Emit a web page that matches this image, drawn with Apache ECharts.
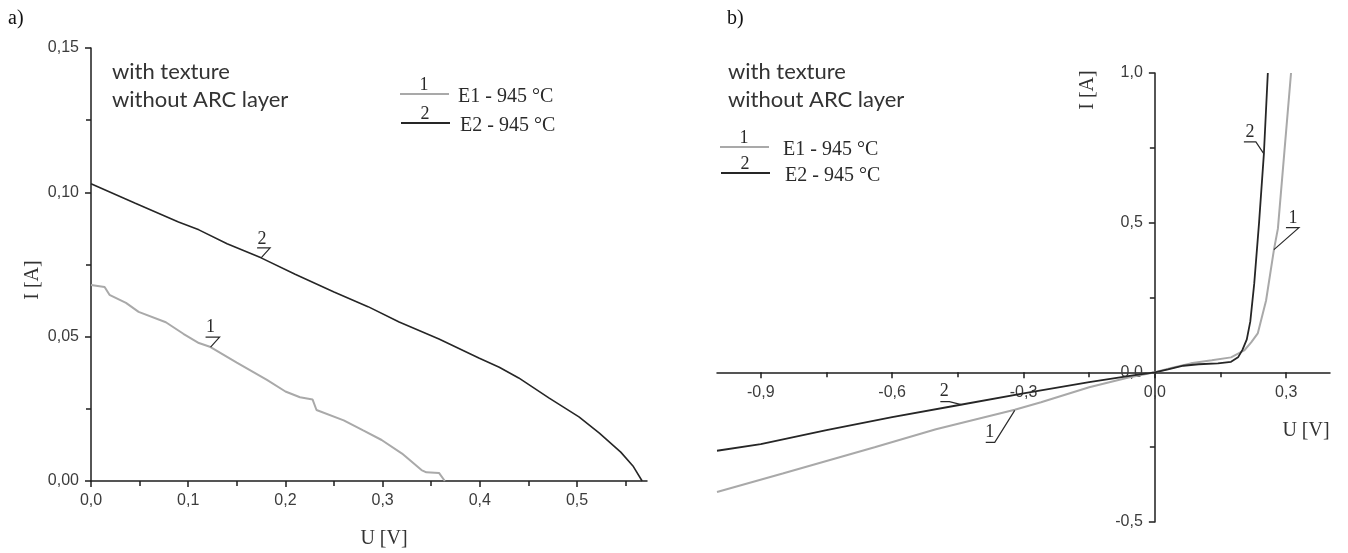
<!DOCTYPE html>
<html><head><meta charset="utf-8">
<script src="https://cdn.jsdelivr.net/npm/echarts@6/dist/echarts.min.js"></script>
<style>html,body{margin:0;padding:0;background:#fff}#c{width:1348px;height:553px}</style>
</head><body><div id="c"></div>
<script>
// ---------- data ----------
const seriesNames = ['E1 - 945 °C', 'E2 - 945 °C'];
const seriesNumbers = ['1', '2'];
const noteLines = ['with texture', 'without ARC layer'];
const panelTitles = ['a)', 'b)'];
const axisTitles = { u: 'U [V]', i: 'I [A]' };

// panel a) : curve 1 (gray, E1)
const a1U = [0, 0.014, 0.019, 0.036, 0.049, 0.077, 0.095, 0.111, 0.123, 0.15, 0.181, 0.2, 0.215, 0.228, 0.232, 0.26, 0.28, 0.299, 0.32, 0.34, 0.345, 0.358, 0.364];
const a1I = [0.0679, 0.0672, 0.0645, 0.0617, 0.0586, 0.055, 0.051, 0.0478, 0.0464, 0.041, 0.035, 0.031, 0.029, 0.0282, 0.0246, 0.021, 0.0175, 0.0142, 0.0095, 0.0038, 0.003, 0.0028, 0];
// panel a) : curve 2 (dark, E2)
const a2U = [0, 0.045, 0.09, 0.111, 0.14, 0.175, 0.21, 0.25, 0.285, 0.317, 0.358, 0.399, 0.42, 0.44, 0.471, 0.502, 0.523, 0.545, 0.558, 0.567];
const a2I = [0.103, 0.0963, 0.0897, 0.087, 0.0822, 0.0773, 0.0716, 0.0655, 0.0604, 0.0551, 0.0492, 0.0426, 0.0394, 0.0357, 0.0288, 0.0222, 0.0166, 0.010, 0.005, 0];

// panel b) : curve 1 (gray, E1)
const b1U = [-1.0, -0.85, -0.64, -0.5, -0.32, -0.26, -0.15, -0.06, 0, 0.04, 0.082, 0.13, 0.174, 0.204, 0.22, 0.235, 0.254, 0.272, 0.281, 0.296, 0.311];
const b1I = [-0.40, -0.338, -0.25, -0.19, -0.125, -0.1, -0.05, -0.017, 0, 0.015, 0.03, 0.04, 0.05, 0.073, 0.1, 0.13, 0.24, 0.41, 0.48, 0.74, 1.0];
// panel b) : curve 2 (dark, E2)
const b2U = [-1.0, -0.9, -0.75, -0.6, -0.45, -0.3, -0.15, -0.05, 0, 0.03, 0.065, 0.1, 0.144, 0.174, 0.19, 0.2, 0.21, 0.218, 0.227, 0.238, 0.249, 0.258];
const b2I = [-0.262, -0.24, -0.193, -0.15, -0.11, -0.07, -0.033, -0.01, 0, 0.01, 0.022, 0.027, 0.03, 0.035, 0.05, 0.075, 0.11, 0.17, 0.297, 0.5, 0.73, 1.0];

// tick values
const aXTicks = [0, 0.1, 0.2, 0.3, 0.4, 0.5];
const aXMinor = [0.05, 0.15, 0.25, 0.35, 0.45, 0.55];
const bXTicks = [-0.9, -0.6, -0.3, 0, 0.3];
const bXMinor = [-0.75, -0.45, -0.15, 0.15];

// axis ranges
const aX = [0, 0.572], aY = [0, 0.15];
const bX = [-1.0, 0.4], bY = [-0.5, 1.0];

// ---------- helpers ----------
const zip = (u, i) => u.map((v, k) => [v, i[k]]);
const comma = d => v => v.toFixed(d).replace('.', ',');
const GRAY = '#a9a9a9', DARK = '#262626', AX = '#1e1e1e', LBL = '#3c3c3c';
const SANS = 'Liberation Sans, Arial, sans-serif';
const SERIF = 'Liberation Serif, Times New Roman, serif';
const NOTE = 'Lato, Open Sans, sans-serif';

const axLine = { show: true, onZero: false, lineStyle: { color: AX, width: 1.5 } };
const tickStyle = { color: AX, width: 1.5 };
const tickLbl = (d) => ({ color: LBL, fontFamily: SANS, fontSize: 16, formatter: comma(d) });

const gridA = { left: 91, top: 48, width: 556, height: 433 };
const gridB = { left: 717, top: 73, width: 613, height: 449 };
// axes of panel b) cross at the origin: shift them inward to the zero position
const bYOffset = -gridB.width * (0 - bX[0]) / (bX[1] - bX[0]);
const bXOffset = -gridB.height * (0 - bY[0]) / (bY[1] - bY[0]);

const chart = echarts.init(document.getElementById('c'));
chart.setOption({
  animation: false,
  backgroundColor: '#fff',
  grid: [gridA, gridB, gridA, gridB],
  xAxis: [
    { gridIndex: 0, type: 'value', min: aX[0], max: aX[1], splitLine: { show: false },
      axisLine: axLine, axisTick: { customValues: aXTicks, length: 6, lineStyle: tickStyle },
      axisLabel: Object.assign(tickLbl(1), { customValues: aXTicks, margin: 12 }) },
    { gridIndex: 1, type: 'value', min: bX[0], max: bX[1], position: 'bottom', offset: bXOffset, splitLine: { show: false },
      axisLine: axLine, axisTick: { customValues: bXTicks, length: 6, lineStyle: tickStyle },
      axisLabel: Object.assign(tickLbl(1), { customValues: bXTicks, margin: 12 }) },
    { gridIndex: 2, type: 'value', min: aX[0], max: aX[1], splitLine: { show: false },
      axisLine: { show: false, onZero: false }, axisLabel: { show: false },
      axisTick: { customValues: aXMinor, length: 5, lineStyle: tickStyle } },
    { gridIndex: 3, type: 'value', min: bX[0], max: bX[1], position: 'bottom', offset: bXOffset, splitLine: { show: false },
      axisLine: { show: false, onZero: false }, axisLabel: { show: false },
      axisTick: { customValues: bXMinor, length: 5, lineStyle: tickStyle } }
  ],
  yAxis: [
    { gridIndex: 0, type: 'value', min: aY[0], max: aY[1], interval: 0.05, splitLine: { show: false },
      axisLine: axLine, axisTick: { length: 6, lineStyle: tickStyle },
      minorTick: { show: true, splitNumber: 2, length: 5, lineStyle: tickStyle },
      axisLabel: Object.assign(tickLbl(2), { margin: 12 }) },
    { gridIndex: 1, type: 'value', min: bY[0], max: bY[1], interval: 0.5, position: 'left', offset: bYOffset, splitLine: { show: false },
      axisLine: axLine, axisTick: { length: 6, lineStyle: tickStyle },
      minorTick: { show: true, splitNumber: 2, length: 5, lineStyle: tickStyle },
      axisLabel: Object.assign(tickLbl(1), { margin: 12 }) },
    { gridIndex: 2, type: 'value', min: aY[0], max: aY[1], show: false },
    { gridIndex: 3, type: 'value', min: bY[0], max: bY[1], show: false }
  ],
  series: [
    { name: seriesNames[0], type: 'line', xAxisIndex: 0, yAxisIndex: 0, data: zip(a1U, a1I), showSymbol: false, lineStyle: { color: GRAY, width: 2 }, z: 3 },
    { name: seriesNames[1], type: 'line', xAxisIndex: 0, yAxisIndex: 0, data: zip(a2U, a2I), showSymbol: false, lineStyle: { color: DARK, width: 1.6 }, z: 3 },
    { name: seriesNames[0], type: 'line', xAxisIndex: 1, yAxisIndex: 1, data: zip(b1U, b1I), showSymbol: false, lineStyle: { color: GRAY, width: 2 }, z: 3 },
    { name: seriesNames[1], type: 'line', xAxisIndex: 1, yAxisIndex: 1, data: zip(b2U, b2I), showSymbol: false, lineStyle: { color: DARK, width: 1.8 }, z: 3 }
  ]
});

// ---------- annotations (text, legends, curve labels) ----------
const g = [];
const txt = (x, y, t, font, opts) => g.push(Object.assign({ type: 'text', x: x, y: y, z: 10,
  style: { text: t, font: font, fill: (opts && opts.fill) || '#2a2a2a', align: (opts && opts.align) || 'left', textAlign: (opts && opts.align) || 'left', verticalAlign: 'middle', textVerticalAlign: 'middle' } },
  (opts && opts.rotation) ? { rotation: opts.rotation } : {}));
const poly = (pts, color, w) => g.push({ type: 'polyline', z: 10, shape: { points: pts }, style: { stroke: color || '#2a2a2a', lineWidth: w || 1.2, fill: null } });

// panel titles
txt(8, 19, panelTitles[0], '20px ' + SERIF, { fill: '#111' });
txt(727, 19, panelTitles[1], '20px ' + SERIF, { fill: '#111' });
// notes
txt(112, 72, noteLines[0], '22px ' + NOTE, { fill: '#333' });
txt(112, 100, noteLines[1], '22px ' + NOTE, { fill: '#333' });
txt(728, 72, noteLines[0], '22px ' + NOTE, { fill: '#333' });
txt(728, 100, noteLines[1], '22px ' + NOTE, { fill: '#333' });
// axis titles
txt(384, 539, axisTitles.u, '20px ' + SERIF, { align: 'center', fill: '#333' });
txt(33, 280, axisTitles.i, '20px ' + SERIF, { align: 'center', fill: '#333', rotation: Math.PI / 2 });
txt(1306, 431, axisTitles.u, '20px ' + SERIF, { align: 'center', fill: '#333' });
txt(1088, 90, axisTitles.i, '20px ' + SERIF, { align: 'center', fill: '#333', rotation: Math.PI / 2 });
// legends
const legend = (x0, y1, y2, tx) => {
  poly([[x0, y1], [x0 + 49, y1]], GRAY, 2);
  txt(x0 + 24, y1 - 9, seriesNumbers[0], '18px ' + SERIF, { align: 'center' });
  txt(tx, y1 + 3, seriesNames[0], '20px ' + SERIF);
  poly([[x0 + 1, y2], [x0 + 50, y2]], DARK, 2);
  txt(x0 + 25, y2 - 9, seriesNumbers[1], '18px ' + SERIF, { align: 'center' });
  txt(tx + 2, y2 + 3, seriesNames[1], '20px ' + SERIF);
};
legend(400, 94, 123, 458);
legend(720, 147, 173, 783);

// curve labels anchored on data coordinates
const label = (grid, u, i, num, under, textOff) => {
  const p = chart.convertToPixel({ gridIndex: grid }, [u, i]);
  const pts = under.map(d => [p[0] + d[0], p[1] + d[1]]);
  poly(pts, '#2a2a2a', 1.2);
  txt(p[0] + textOff[0], p[1] + textOff[1], num, '18px ' + SERIF, { align: 'center' });
};
label(0, 0.175, 0.0773, seriesNumbers[1], [[-4, -10], [9, -10], [0, 0]], [1, -19]);
label(0, 0.123, 0.0464, seriesNumbers[0], [[-5, -10], [9, -10], [0, 0]], [0, -20]);
label(1, 0.249, 0.73, seriesNumbers[1], [[-20, -12], [-8, -12], [0, 0]], [-14, -22]);
label(1, 0.272, 0.41, seriesNumbers[0], [[12, -22], [25, -22], [0, 0]], [19, -31]);
label(1, -0.442, -0.108, seriesNumbers[1], [[-21, -3], [-12, -3], [0, 0]], [-17, -13]);
label(1, -0.32, -0.127, seriesNumbers[0], [[-29, 32], [-20, 32], [0, 0]], [-25, 22]);

chart.setOption({ graphic: g });
</script>
</body></html>
